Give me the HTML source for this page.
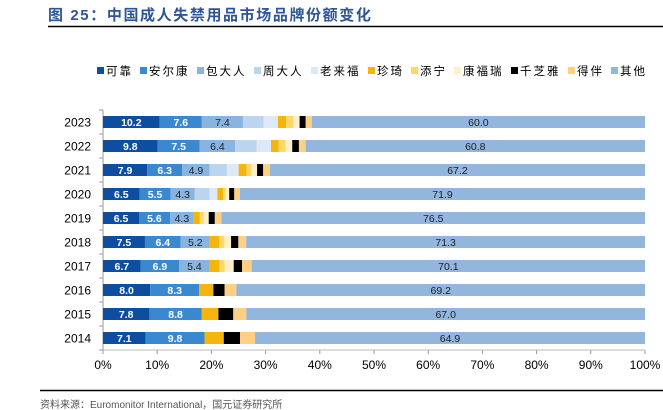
<!DOCTYPE html>
<html><head><meta charset="utf-8"><style>
body{margin:0;background:#fff;width:663px;height:410px;overflow:hidden;font-family:"Liberation Sans","Noto Sans CJK SC",sans-serif}
</style></head><body>
<svg id="c" width="663" height="410" style="position:absolute;left:0;top:0"></svg>
<script>
const years=["2023","2022","2021","2020","2019","2018","2017","2016","2015","2014"];
const brands=["可靠","安尔康","包大人","周大人","老来福","珍琦","添宁","康福瑞","千芝雅","得伴","其他"];
const colors=["#0d4ea0","#3a88d0","#8ab4e0","#bcd5ee","#dde9f6","#f5b50f","#ffd863","#fff0cc","#000000","#ffcf85","#92b6de"];
const s_kekao=[10.2,9.8,7.9,6.5,6.5,7.5,6.7,8.0,7.8,7.1];
const s_anerkang=[7.6,7.5,6.3,5.5,5.6,6.4,6.9,8.3,8.8,9.8];
const s_baodaren=[7.4,6.4,4.9,4.3,4.3,5.2,5.4,0,0,0];
const s_zhoudaren=[3.7,3.8,3.1,2.6,0,0,0,0,0,0];
const s_laolaifu=[2.6,2.6,2.1,1.4,0,0,0,0,0,0];
const s_zhenqi=[1.5,1.4,1.4,1.0,1.1,1.7,1.8,2.4,2.8,3.2];
const s_tianning=[1.3,1.2,0.9,0.5,0.7,0.9,0.9,0,0,0];
const s_kangfurui=[1.1,1.2,1.0,0.6,0.9,1.2,1.6,0,0,0];
const s_qianzhiya=[1.1,1.2,1.1,0.9,1.1,1.3,1.5,1.9,2.5,2.7];
const s_deban=[1.1,1.2,1.2,1.0,1.2,1.4,1.7,2.0,2.2,2.5];
const s_qita=[60.0,60.8,67.2,71.9,76.5,71.3,70.1,69.2,67.0,64.9];
const series=[s_kekao,s_anerkang,s_baodaren,s_zhoudaren,s_laolaifu,s_zhenqi,s_tianning,s_kangfurui,s_qianzhiya,s_deban,s_qita];
const labeled=[0,1,2,10];
const ticks=["0%","10%","20%","30%","40%","50%","60%","70%","80%","90%","100%"];
const NS="http://www.w3.org/2000/svg",svg=document.getElementById('c');
function el(t,a,p){const e=document.createElementNS(NS,t);for(const k in a)e.setAttribute(k,a[k]);(p||svg).appendChild(e);return e;}
const X0=103,X1=645,Y0=110,RH=24;
const xs=p=>X0+(X1-X0)*p/100;
const yc=i=>Y0+12+i*RH;
let t=el('text',{x:48,y:20,fill:'#2e5597','font-size':15,'font-weight':'bold','letter-spacing':1.6});t.textContent="图 25：中国成人失禁用品市场品牌份额变化";

let l=el('line',{x1:48,x2:663,y1:26.5,y2:26.5,stroke:'#000','stroke-width':1.5});

let lx=97;
brands.forEach((b,i)=>{
 const g=el('g',{});
 
 el('rect',{x:lx,y:67,width:7,height:7,fill:colors[i]},g);
 const tt=el('text',{x:lx+9,y:75,'font-size':11.5,fill:'#000','letter-spacing':2},g);tt.textContent=b;
 lx+=15+b.length*14;
});
for(let k=0;k<=10;k++){
 const tx=el('text',{x:xs(k*10),y:369,'font-size':12,'text-anchor':'middle',fill:'#000'});tx.textContent=ticks[k];
 
 el('line',{x1:xs(k*10),x2:xs(k*10),y1:350,y2:354,stroke:'#999'});
}
el('line',{x1:X0,x2:X1,y1:350,y2:350,stroke:'#bbb'});
el('line',{x1:X0,x2:X0,y1:Y0,y2:350,stroke:'#999'});
for(let i=0;i<=years.length;i++)el('line',{x1:X0-4,x2:X0,y1:Y0+i*RH,y2:Y0+i*RH,stroke:'#999'});
years.forEach((y,i)=>{
 const yl=el('text',{x:91,y:yc(i)+4.5,'font-size':12,'text-anchor':'end',fill:'#000'});yl.textContent=y;
 
 let tot=0;series.forEach(s=>tot+=s[i]);
 let acc=0;
 series.forEach((s,j)=>{
  const v=s[i];if(v<=0)return;
  const x=xs(acc/tot*100),w=xs((acc+v)/tot*100)-x;acc+=v;
  const r=el('rect',{x:x,y:yc(i)-6,width:w,height:12,fill:colors[j]});
  
  if(labeled.includes(j)){
   const lt=el('text',{x:x+w/2,y:yc(i)+4,'font-size':10.5,'text-anchor':'middle',fill:(j<2?'#fff':'#222'),'font-weight':j<2?'bold':'normal'});
   lt.textContent=v.toFixed(1);
  }
 });
});
el('line',{x1:40,x2:663,y1:390.5,y2:390.5,stroke:'#000','stroke-width':1.5});
let src=el('text',{x:40,y:408,'font-size':10,fill:'#555'});src.textContent="资料来源：Euromonitor International，国元证券研究所";

</script>
</body></html>
